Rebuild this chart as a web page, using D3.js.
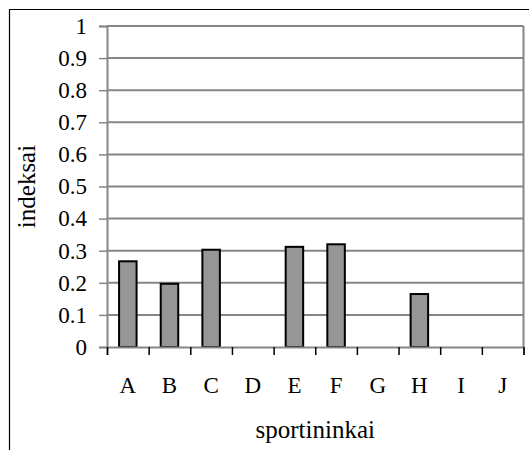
<!DOCTYPE html>
<html>
<head>
<meta charset="utf-8">
<script src="https://cdn.jsdelivr.net/npm/d3@7"></script>
<style>
  html, body { margin: 0; padding: 0; background: #fff; }
  svg { display: block; }
</style>
</head>
<body>
<svg id="chart" width="529" height="450"></svg>
<script>
// Index value per athlete
const categories = ["A", "B", "C", "D", "E", "F", "G", "H", "I", "J"];
const values = [0.267, 0.197, 0.303, 0, 0.312, 0.320, 0, 0.165, 0, 0];
const yTicks = [0, 0.1, 0.2, 0.3, 0.4, 0.5, 0.6, 0.7, 0.8, 0.9, 1];
const yTitle = "indeksai";
const xTitle = "sportininkai";

const FONT = "'Liberation Serif', 'Times New Roman', Times, serif";
const svg = d3.select("#chart");
const W = 529, H = 450;
const plot = { left: 107, right: 523.5, top: 26, bottom: 347 };

// outer chart frame (runs off the right and bottom edges)
svg.append("path")
  .attr("d", `M9.5,${H + 2} V9.5 H${W + 2}`)
  .attr("fill", "none")
  .attr("stroke", "#000")
  .attr("stroke-width", 1.2);

const x = d3.scaleBand().domain(categories).range([plot.left, plot.right]).paddingInner(0).paddingOuter(0);
const y = d3.scaleLinear().domain([0, 1]).range([plot.bottom, plot.top]);

// horizontal gridlines
svg.append("g")
  .selectAll("line")
  .data(yTicks.filter(d => d > 0))
  .join("line")
  .attr("x1", plot.left).attr("x2", plot.right)
  .attr("y1", d => y(d)).attr("y2", d => y(d))
  .attr("stroke", "#868686")
  .attr("stroke-width", 2);

// right edge of plot area
svg.append("line")
  .attr("x1", plot.right).attr("x2", plot.right)
  .attr("y1", plot.top).attr("y2", plot.bottom)
  .attr("stroke", "#868686")
  .attr("stroke-width", 2);

// bars
const barW = x.bandwidth() * 0.42;
svg.append("g")
  .selectAll("rect")
  .data(categories.map((c, i) => ({ c, v: values[i] })).filter(d => d.v > 0))
  .join("rect")
  .attr("x", d => x(d.c) + (x.bandwidth() - barW) / 2)
  .attr("y", d => y(d.v))
  .attr("width", barW)
  .attr("height", d => y(0) - y(d.v))
  .attr("fill", "#969696")
  .attr("stroke", "#000")
  .attr("stroke-width", 2);

// y axis
const yAxis = svg.append("g")
  .attr("transform", `translate(${plot.left},0)`)
  .call(d3.axisLeft(y).tickValues(yTicks).tickSize(8).tickPadding(12)
    .tickFormat(d => String(+d.toFixed(1))));
yAxis.attr("font-family", null).attr("font-size", null);
yAxis.select(".domain").attr("stroke", "#868686").attr("stroke-width", 2);
yAxis.selectAll(".tick line").attr("stroke", "#868686").attr("stroke-width", 1.5);
yAxis.selectAll(".tick text")
  .style("font-family", FONT).style("font-size", "23px").attr("fill", "#000");

// x axis: tick marks on category boundaries
const edge = d3.scaleLinear().domain([0, categories.length]).range([plot.left, plot.right]);
const xAxisTicks = svg.append("g")
  .attr("transform", `translate(0,${plot.bottom})`)
  .call(d3.axisBottom(edge).tickValues(d3.range(categories.length + 1)).tickSize(8).tickFormat(""));
xAxisTicks.select(".domain").attr("stroke", "#868686").attr("stroke-width", 2);
xAxisTicks.selectAll(".tick line").attr("stroke", "#000").attr("stroke-width", 1.5);

// x axis: category labels
const xAxis = svg.append("g")
  .attr("transform", `translate(0,${plot.bottom})`)
  .call(d3.axisBottom(x).tickSize(0));
xAxis.attr("font-family", null).attr("font-size", null);
xAxis.select(".domain").remove();
xAxis.selectAll(".tick text")
  .attr("y", 46).attr("dy", 0).attr("fill", "#000")
  .style("font-family", FONT).style("font-size", "23px");

// axis titles
svg.append("text")
  .attr("transform", `translate(35,${(plot.top + plot.bottom) / 2}) rotate(-90)`)
  .attr("text-anchor", "middle")
  .style("font-family", FONT).style("font-size", "25px")
  .text(yTitle);

svg.append("text")
  .attr("x", (plot.left + plot.right) / 2)
  .attr("y", 438)
  .attr("text-anchor", "middle")
  .style("font-family", FONT).style("font-size", "25px")
  .text(xTitle);
</script>
</body>
</html>
